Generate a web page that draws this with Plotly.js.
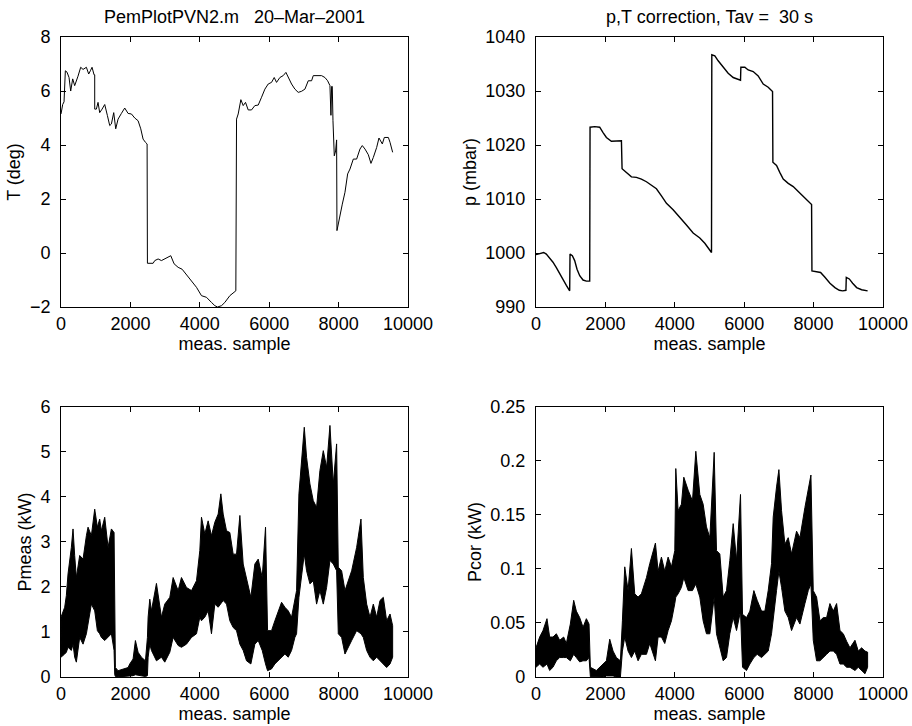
<!DOCTYPE html>
<html>
<head>
<meta charset="utf-8">
<script src="https://cdn.plot.ly/plotly-3.0.1.min.js"></script>
<style>html,body{margin:0;padding:0;background:#fff;}#chart{width:912px;height:726px;}</style>
</head>
<body>
<div id="chart"></div>
<script>
// ---- Temperature (top-left) ----
const tSample = [0,48,87,125,173,231,279,337,394,442,
  490,567,635,731,798,846,894,952,971,971,
  1019,1067,1115,1183,1260,1337,1404,1452,1519,1577,
  1644,1740,1836,1933,2029,2125,2221,2298,2365,2433,
  2481,2490,2654,2702,2798,2894,2990,3086,3163,3259,
  3375,3490,3615,3760,3904,4048,4192,4336,4433,4510,
  4625,4721,4865,5038,5058,5106,5183,5250,5317,5394,
  5490,5586,5683,5779,5875,5971,6067,6144,6211,6307,
  6403,6481,6548,6644,6740,6836,6932,7029,7125,7221,
  7269,7365,7509,7606,7683,7750,7779,7798,7817,7837,
  7875,7913,7942,7952,8038,8106,8183,8260,8327,8423,
  8519,8615,8682,8760,8856,8932,9000,9096,9163,9259,
  9317,9433,9481,9557];
const tDeg = [5.15,5.5,5.6,6.75,6.7,6.5,6.0,6.45,6.2,6.35,
  6.55,6.88,6.8,6.88,6.63,6.75,6.88,6.6,6.6,5.33,
  5.33,5.58,5.2,5.33,5.5,5.09,4.72,4.78,5.2,4.6,
  4.96,5.17,5.37,5.17,5.15,5.0,4.9,4.6,4.22,4.1,
  4.04,-0.38,-0.38,-0.28,-0.22,-0.28,-0.22,-0.16,-0.1,-0.4,
  -0.53,-0.6,-0.8,-1.02,-1.27,-1.58,-1.64,-1.83,-1.95,-2.0,
  -1.95,-1.83,-1.58,-1.4,4.96,5.15,5.68,5.46,5.58,5.3,
  5.3,5.46,5.48,5.77,6.07,6.26,6.32,6.5,6.32,6.5,
  6.57,6.69,6.5,6.26,6.07,5.95,5.99,6.07,6.38,6.38,
  6.57,6.57,6.57,6.5,6.38,6.2,5.1,6.17,6.17,4.9,
  3.6,3.78,4.19,0.83,1.44,1.81,2.25,2.93,3.11,3.48,
  3.48,3.85,3.98,3.85,3.64,3.32,3.54,3.91,4.26,4.04,
  4.28,4.28,4.1,3.73];

// ---- Pressure (top-right) ----
const pSample = [0,106,221,298,394,490,587,683,779,875,
  971,981,1048,1115,1183,1260,1356,1452,1548,1558,
  1692,1836,1933,2029,2173,2317,2462,2481,2606,2750,
  2894,3038,3183,3327,3471,3615,3760,3952,4144,4336,
  4529,4721,4865,5010,5058,5067,5154,5250,5394,5538,
  5683,5798,5894,5904,6019,6115,6259,6403,6548,6692,
  6817,6827,6932,7029,7125,7269,7413,7558,7702,7846,
  7942,7952,8086,8202,8327,8471,8615,8740,8837,8932,
  8942,9029,9125,9240,9384,9557];
const pMbar = [999.7,999.9,1000.1,999.8,999.1,998.3,997.3,996.1,995.0,994.0,
  993.0,999.8,999.5,998.6,997.0,995.8,995.0,994.8,994.8,1023.3,
  1023.4,1023.3,1022.3,1021.4,1020.7,1020.7,1020.8,1015.6,1014.9,1014.1,
  1014.0,1013.7,1013.2,1012.5,1011.9,1010.6,1009.2,1008.0,1006.7,1005.2,
  1003.7,1002.8,1001.8,1000.6,1000.1,1036.7,1036.5,1035.6,1034.4,1033.3,
  1032.5,1032.2,1032.0,1034.4,1034.4,1033.9,1033.6,1032.8,1031.3,1030.7,
  1029.9,1016.8,1016.2,1014.9,1013.7,1012.9,1012.3,1011.4,1010.5,1009.7,
  1009.0,996.7,996.6,996.4,995.5,994.4,993.6,993.1,993.0,993.1,
  995.5,995.2,994.4,993.6,993.2,993.0];

// ---- Measured power envelope (bottom-left) ----
const pmSample = [0,106,154,202,298,346,394,442,538,635,
  731,779,875,971,1048,1115,1163,1260,1356,1452,
  1529,1548,1567,1644,1788,1933,1981,2077,2144,2221,
  2317,2433,2490,2510,2558,2606,2750,2894,2990,3135,
  3231,3375,3471,3615,3760,3904,4000,4048,4144,4240,
  4336,4433,4529,4606,4673,4769,4865,4961,5058,5154,
  5250,5346,5471,5586,5683,5798,5894,5952,6067,6163,
  6259,6356,6452,6548,6644,6740,6788,6856,6932,7010,
  7077,7173,7269,7365,7461,7558,7654,7750,7846,7942,
  7990,8086,8183,8279,8375,8519,8644,8711,8808,8904,
  9000,9096,9192,9288,9384,9481,9557];
const pmHigh = [1.33,1.55,1.81,2.29,2.88,3.29,2.70,2.21,2.70,2.62,
  3.14,3.33,3.14,3.73,3.33,3.51,3.25,3.55,2.88,3.29,
  3.21,0.88,0.21,0.14,0.18,0.21,0.29,0.40,0.81,0.55,
  0.44,0.36,0.88,1.33,1.73,1.47,2.08,1.33,1.62,1.77,
  2.21,1.92,2.21,1.99,1.92,2.14,2.81,3.55,3.18,3.47,
  3.14,3.44,3.62,4.07,3.62,3.25,3.21,2.73,2.73,3.59,
  2.51,2.21,1.77,2.51,2.62,2.21,3.33,1.03,1.03,1.25,
  1.47,1.66,1.55,1.47,1.33,1.70,1.92,4.07,4.81,5.55,
  4.88,4.29,3.92,3.77,4.59,5.03,4.66,5.59,4.29,5.18,
  2.44,2.36,1.92,2.14,2.36,2.88,3.51,2.21,1.62,1.33,
  1.62,1.33,1.70,1.77,1.25,1.40,1.14];
const pmLow = [0.44,0.51,0.55,0.66,0.59,0.73,0.44,0.33,0.88,0.73,
  0.96,1.18,1.62,1.47,1.03,0.96,0.88,0.81,0.88,0.96,
  0.59,0.05,0.01,0.01,0.01,0.02,0.02,0.03,0.05,0.05,
  0.03,0.01,0.03,0.44,0.73,0.59,0.36,0.44,0.33,0.55,
  0.88,0.70,0.66,0.73,0.88,0.96,1.33,1.25,1.33,1.47,
  0.96,1.62,1.55,1.62,1.70,1.62,1.25,1.10,1.03,0.73,
  0.59,0.36,0.29,0.73,0.81,0.59,0.29,0.14,0.18,0.29,
  0.36,0.44,0.51,0.44,0.59,0.88,0.96,1.77,2.21,2.73,
  2.36,2.07,2.14,1.62,1.92,1.62,1.99,2.59,2.51,2.36,
  0.96,0.88,0.51,0.66,0.81,1.03,0.96,0.88,0.59,0.44,
  0.36,0.44,0.36,0.29,0.21,0.29,0.44];

// ---- Corrected power envelope (bottom-right) ----
const pcSample = [0,106,202,317,394,490,587,683,798,875,
  990,1087,1163,1260,1356,1452,1529,1567,1740,1933,
  2029,2125,2221,2317,2433,2490,2558,2654,2750,2846,
  2942,3038,3183,3279,3442,3519,3615,3711,3808,3904,
  4000,4029,4096,4192,4260,4385,4510,4606,4721,4817,
  4913,5010,5135,5202,5298,5394,5490,5586,5683,5779,
  5894,5952,6067,6163,6279,6375,6500,6596,6692,6788,
  6836,6932,7000,7077,7173,7269,7365,7509,7606,7750,
  7846,7923,7990,8086,8183,8279,8375,8471,8567,8663,
  8760,8856,8952,9048,9192,9288,9384,9481,9557];
const pcHigh = [0.027,0.037,0.043,0.054,0.037,0.037,0.040,0.034,0.037,0.031,
  0.049,0.071,0.061,0.055,0.046,0.054,0.049,0.009,0.006,0.012,
  0.015,0.035,0.024,0.018,0.015,0.052,0.102,0.080,0.119,0.077,
  0.074,0.077,0.092,0.105,0.124,0.098,0.111,0.098,0.111,0.102,
  0.117,0.193,0.154,0.160,0.185,0.173,0.163,0.209,0.169,0.160,
  0.139,0.129,0.208,0.117,0.114,0.074,0.080,0.108,0.142,0.108,
  0.169,0.058,0.055,0.061,0.080,0.071,0.061,0.061,0.080,0.105,
  0.148,0.176,0.192,0.154,0.123,0.129,0.114,0.135,0.129,0.157,
  0.173,0.187,0.080,0.074,0.052,0.055,0.055,0.068,0.061,0.068,
  0.043,0.040,0.033,0.027,0.034,0.024,0.027,0.024,0.023];
const pcLow = [0.009,0.012,0.009,0.012,0.006,0.009,0.015,0.018,0.018,0.018,
  0.015,0.021,0.018,0.014,0.015,0.015,0.018,0.0003,0.0,0.0,
  0.001,0.001,0.001,0.0,0.0,0.024,0.037,0.024,0.018,0.024,
  0.015,0.021,0.021,0.031,0.015,0.037,0.037,0.031,0.043,0.052,
  0.068,0.074,0.077,0.083,0.092,0.080,0.080,0.086,0.074,0.052,
  0.040,0.040,0.074,0.040,0.027,0.015,0.018,0.040,0.055,0.043,
  0.061,0.009,0.006,0.012,0.018,0.021,0.018,0.021,0.024,0.040,
  0.055,0.080,0.098,0.083,0.061,0.055,0.043,0.055,0.049,0.068,
  0.080,0.086,0.034,0.015,0.015,0.018,0.021,0.024,0.024,0.021,
  0.012,0.012,0.009,0.009,0.006,0.009,0.006,0.003,0.009];

const xTickVals = [0, 2000, 4000, 6000, 8000, 10000];
const xTickText = ['0', '2000', '4000', '6000', '8000', '10000'];

function band(xs, hi, lo) {
  return {
    x: xs.concat(xs.slice().reverse()),
    y: hi.concat(lo.slice().reverse())
  };
}

const font = {family: 'Liberation Sans, Arial, Helvetica, sans-serif', size: 18, color: '#000'};
const bandPm = band(pmSample, pmHigh, pmLow);
const bandPc = band(pcSample, pcHigh, pcLow);

const traces = [
  {x: tSample, y: tDeg, type: 'scatter', mode: 'lines', line: {color: '#000', width: 1}, xaxis: 'x', yaxis: 'y'},
  {x: pSample, y: pMbar, type: 'scatter', mode: 'lines', line: {color: '#000', width: 1.4}, xaxis: 'x2', yaxis: 'y2'},
  {x: bandPm.x, y: bandPm.y, type: 'scatter', mode: 'lines', fill: 'toself', fillcolor: '#000', line: {color: '#000', width: 1}, xaxis: 'x3', yaxis: 'y3'},
  {x: bandPc.x, y: bandPc.y, type: 'scatter', mode: 'lines', fill: 'toself', fillcolor: '#000', line: {color: '#000', width: 1}, xaxis: 'x4', yaxis: 'y4'}
];

function xa(domain, anchor) {
  return {
    domain: domain, anchor: anchor, range: [0, 10000], tickvals: xTickVals, ticktext: xTickText,
    ticks: 'inside', ticklen: 5, tickcolor: '#000', showline: true, linecolor: '#000', linewidth: 1,
    mirror: 'ticks', showgrid: false, zeroline: false, tickfont: font, ticklabelstandoff: 0,
    title: {text: 'meas. sample', font: font, standoff: 2}
  };
}
function ya(domain, anchor, range, dtick, title) {
  return {
    domain: domain, anchor: anchor, range: range, dtick: dtick, tick0: 0,
    ticks: 'inside', ticklen: 5, tickcolor: '#000', showline: true, linecolor: '#000', linewidth: 1,
    mirror: 'ticks', showgrid: false, zeroline: false, tickfont: font, ticklabelstandoff: 6,
    title: {text: title, font: font, standoff: 4}
  };
}

const dxL = [0.0669, 0.4474], dxR = [0.5877, 0.9682];
const dyT = [0.5771, 0.9490], dyB = [0.0675, 0.4394];

const layout = {
  width: 912, height: 726, showlegend: false,
  paper_bgcolor: '#fff', plot_bgcolor: '#fff',
  margin: {l: 0, r: 0, t: 0, b: 0},
  font: font,
  xaxis: xa(dxL, 'y'), yaxis: ya(dyT, 'x', [-2, 8], 2, 'T (deg)'),
  xaxis2: xa(dxR, 'y2'), yaxis2: ya(dyT, 'x2', [990, 1040], 10, 'p (mbar)'),
  xaxis3: xa(dxL, 'y3'), yaxis3: ya(dyB, 'x3', [0, 6], 1, 'Pmeas (kW)'),
  xaxis4: xa(dxR, 'y4'), yaxis4: ya(dyB, 'x4', [0, 0.25], 0.05, 'Pcor (kW)'),
  annotations: [
    {text: 'PemPlotPVN2.m\u00a0\u00a0\u00a020\u2013Mar\u20132001', xref: 'paper', yref: 'paper', x: (dxL[0]+dxL[1])/2, y: 1 - 17/726, xanchor: 'center', yanchor: 'middle', showarrow: false, font: font},
    {text: 'p,T correction, Tav =\u00a0\u00a030 s', xref: 'paper', yref: 'paper', x: (dxR[0]+dxR[1])/2, y: 1 - 17/726, xanchor: 'center', yanchor: 'middle', showarrow: false, font: font}
  ]
};

Plotly.newPlot('chart', traces, layout, {staticPlot: true, displayModeBar: false});
</script>
</body>
</html>
